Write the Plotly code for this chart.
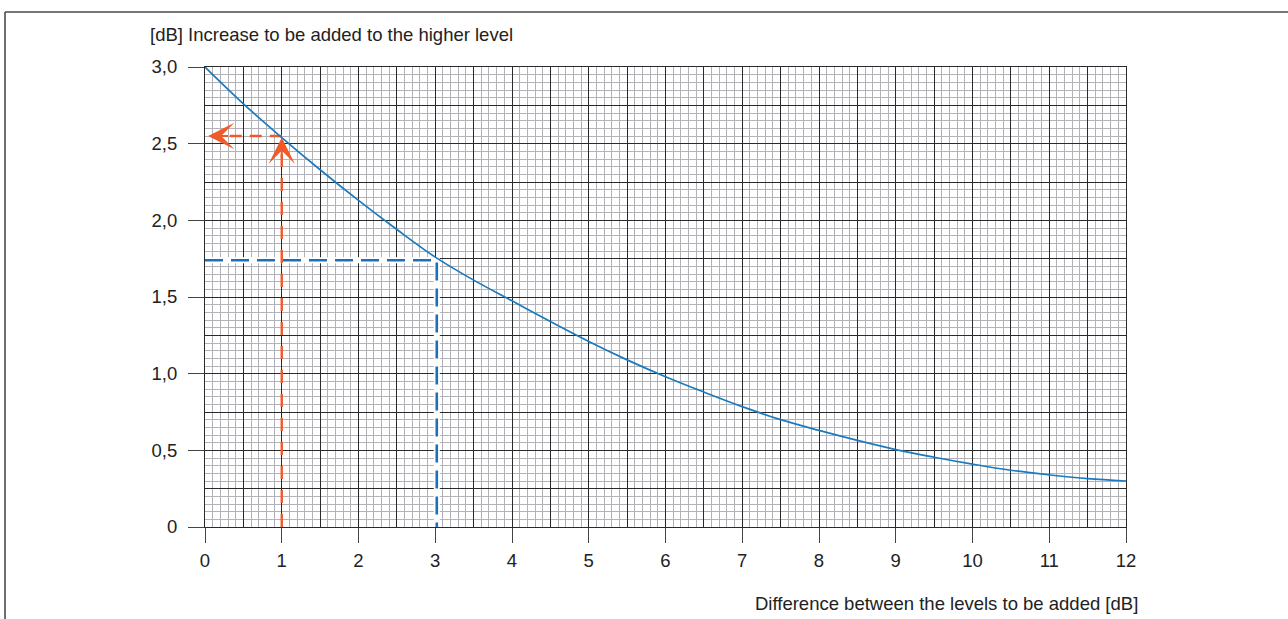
import plotly.graph_objects as go

# Level difference between two sources [dB] and the increase to add to the higher level [dB]
diff = [0, 0.5, 1, 1.5, 2, 2.5, 3, 3.5, 4, 4.5, 5, 5.5, 6, 6.5, 7, 7.5, 8, 8.5, 9, 9.5, 10, 10.5, 11, 11.5, 12]
increase = [3.00, 2.76, 2.54, 2.33, 2.13, 1.94, 1.76, 1.61, 1.475, 1.34, 1.21, 1.09, 0.98, 0.88, 0.785, 0.70,
            0.63, 0.565, 0.505, 0.455, 0.41, 0.37, 0.34, 0.315, 0.30]

# Worked examples: 1 dB difference -> 2.55 dB ; 3 dB difference -> 1.74 dB
ex1_diff, ex1_inc = 1.0, 2.55
ex2_diff, ex2_inc = 3.02, 1.74

x_tick_vals = list(range(0, 13))
y_tick_vals = [0, 0.5, 1.0, 1.5, 2.0, 2.5, 3.0]
y_tick_text = ["0", "0,5", "1,0", "1,5", "2,0", "2,5", "3,0"]

y_title = "[dB] Increase to be added to the higher level"
x_title = "Difference between the levels to be added [dB]"

CURVE = "#1a7abf"
GUIDE_BLUE = "#1d6fb8"
ORANGE = "#f05a28"
MAJOR = "#2a2a2a"
MINOR = "#b2b2b8"
TEXT = "#222222"
FONT = "Liberation Sans, Arial, Helvetica, sans-serif"
FS = 18.5

W, H = 1288, 619
ML, MR, MT, MB = 205, 162, 67, 92
PW, PH = W - ML - MR, H - MT - MB


def px_x(p):
    return (p - ML) / PW


def px_y(p):
    return (H - MB - p) / PH


fig = go.Figure()

# blue guide: white underlay then dashes
fig.add_trace(go.Scatter(x=[0, ex2_diff, ex2_diff], y=[ex2_inc, ex2_inc, 0], mode="lines",
                         line=dict(color="white", width=6), hoverinfo="skip", showlegend=False))
fig.add_trace(go.Scatter(x=[0, ex2_diff, ex2_diff], y=[ex2_inc, ex2_inc, 0], mode="lines",
                         line=dict(color=GUIDE_BLUE, width=2.6, dash="18px,8px"),
                         hoverinfo="skip", showlegend=False))

# orange guide
fig.add_trace(go.Scatter(x=[ex1_diff, ex1_diff], y=[0, ex1_inc - 0.12], mode="lines",
                         line=dict(color=ORANGE, width=2.4, dash="13px,11px"),
                         hoverinfo="skip", showlegend=False))
fig.add_trace(go.Scatter(x=[ex1_diff, 0.18], y=[ex1_inc, ex1_inc], mode="lines",
                         line=dict(color=ORANGE, width=2.4, dash="12px,8px"),
                         hoverinfo="skip", showlegend=False))

# the curve
fig.add_trace(go.Scatter(x=diff, y=increase, mode="lines",
                         line=dict(color=CURVE, width=1.7, shape="spline", smoothing=1.0),
                         hoverinfo="skip", showlegend=False))

# empty trace to bind the overlay tick axes
fig.add_trace(go.Scatter(x=[], y=[], xaxis="x2", yaxis="y2", mode="lines",
                         hoverinfo="skip", showlegend=False))

# arrowheads
fig.add_annotation(x=ex1_diff, y=ex1_inc - 0.01, ax=ex1_diff, ay=ex1_inc - 0.15,
                   xref="x", yref="y", axref="x", ayref="y", text="", showarrow=True,
                   arrowhead=3, arrowsize=2.2, arrowwidth=2, arrowcolor=ORANGE)
fig.add_annotation(x=0.04, y=ex1_inc, ax=0.32, ay=ex1_inc,
                   xref="x", yref="y", axref="x", ayref="y", text="", showarrow=True,
                   arrowhead=3, arrowsize=2.2, arrowwidth=2, arrowcolor=ORANGE)

# axis titles
fig.add_annotation(x=px_x(148), y=px_y(34), xref="paper", yref="paper", text=y_title,
                   showarrow=False, xanchor="left", yanchor="middle",
                   font=dict(family=FONT, size=FS, color=TEXT))
fig.add_annotation(x=px_x(1140), y=px_y(603), xref="paper", yref="paper", text=x_title,
                   showarrow=False, xanchor="right", yanchor="middle",
                   font=dict(family=FONT, size=FS, color=TEXT))

# outer frame (left and top edges)
fr_x, fr_y = px_x(5), px_y(12)
fig.add_shape(type="line", xref="paper", yref="paper", x0=fr_x, x1=fr_x, y0=px_y(640), y1=fr_y,
              line=dict(color="#4a4a4a", width=1.6))
fig.add_shape(type="line", xref="paper", yref="paper", x0=fr_x, x1=px_x(1300), y0=fr_y, y1=fr_y,
              line=dict(color="#4a4a4a", width=1.6))

grid_axis = dict(showgrid=True, gridcolor=MAJOR, gridwidth=1, zeroline=False,
                 showticklabels=False, ticks="", showline=True, mirror=True,
                 linecolor=MAJOR, linewidth=1)

fig.update_layout(
    width=W, height=H, autosize=False,
    margin=dict(l=ML, r=MR, t=MT, b=MB),
    paper_bgcolor="white", plot_bgcolor="white",
    font=dict(family=FONT, size=FS, color=TEXT),
    showlegend=False,
    xaxis=dict(range=[0, 12], tick0=0, dtick=0.5,
               minor=dict(dtick=0.1, tick0=0, showgrid=True, gridcolor=MINOR, gridwidth=1),
               **grid_axis),
    yaxis=dict(range=[0, 3], tick0=0, dtick=0.25,
               minor=dict(dtick=0.05, tick0=0, showgrid=True, gridcolor=MINOR, gridwidth=1),
               **grid_axis),
    xaxis2=dict(overlaying="x", anchor="y2", side="bottom", range=[0, 12],
                tickmode="array", tickvals=x_tick_vals, ticks="outside", ticklen=15,
                tickcolor="#444444", tickwidth=1, showgrid=False, zeroline=False, showline=False,
                ticklabelstandoff=2,
                tickfont=dict(family=FONT, size=FS, color=TEXT)),
    yaxis2=dict(overlaying="y", anchor="x2", side="left", range=[0, 3],
                tickmode="array", tickvals=y_tick_vals, ticktext=y_tick_text, ticks="outside",
                ticklen=16, tickcolor="#444444", tickwidth=1, showgrid=False, zeroline=False,
                showline=False, ticklabelstandoff=7,
                tickfont=dict(family=FONT, size=FS, color=TEXT)),
)

fig.write_html("out.html")
